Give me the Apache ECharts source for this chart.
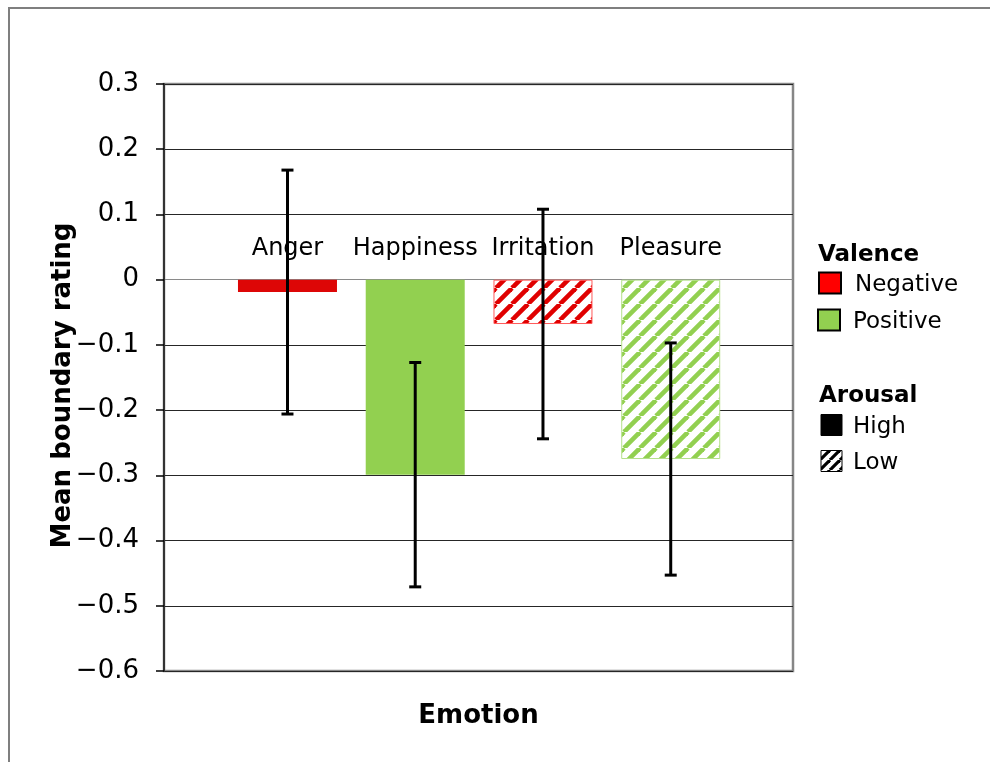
<!DOCTYPE html>
<html>
<head>
<meta charset="utf-8">
<script src="https://cdn.jsdelivr.net/npm/echarts@6/dist/echarts.min.js"></script>
<style>html,body{margin:0;padding:0;background:#fff}#chart{width:990px;height:762px}</style>
</head>
<body>
<div id="chart"></div>
<script>
// ---- data ----
const categories = ['Anger', 'Happiness', 'Irritation', 'Pleasure'];
const meanValues = [-0.019, -0.299, -0.068, -0.275];
const errorValues = [0.187, 0.172, 0.176, 0.178];
const valence = ['Negative', 'Positive', 'Negative', 'Positive'];
const arousal = ['High', 'High', 'Low', 'Low'];
const yMin = -0.6, yMax = 0.3, yStep = 0.1;
const valenceLegend = ['Negative', 'Positive'];
const arousalLegend = ['High', 'Low'];
const yTitle = 'Mean boundary rating';
const xTitle = 'Emotion';

// ---- styling ----
const FONT = 'DejaVu Sans';
const solidColor = { Negative: '#dd0606', Positive: '#92d050' };
const stripeColor = { Negative: '#e00000', Positive: '#92d050' };
const stripeBorder = { Negative: '#ff5a5a', Positive: '#b4e08a' };
const legendColor = { Negative: '#ff0000', Positive: '#92d050' };

function stripes(color, s, w) {
  const c = document.createElement('canvas');
  c.width = s; c.height = s;
  const g = c.getContext('2d');
  g.fillStyle = '#fff'; g.fillRect(0, 0, s, s);
  g.strokeStyle = color; g.lineWidth = w;
  for (const k of [-1, 0, 1]) {
    g.beginPath(); g.moveTo(k * s, s); g.lineTo(k * s + s, 0); g.stroke();
  }
  return c;
}

function itemStyleFor(i) {
  const v = valence[i];
  if (arousal[i] === 'High') return { color: solidColor[v] };
  return {
    color: { image: stripes(stripeColor[v], 16, 4.6), repeat: 'repeat' },
    borderColor: stripeBorder[v], borderWidth: 1
  };
}

const chart = echarts.init(document.getElementById('chart'), null, { renderer: 'canvas' });

const legendX = 819;
const graphics = [
  { type: 'rect', z: -10, shape: { x: 9, y: 8, width: 1200, height: 1000 },
    style: { fill: 'transparent', stroke: '#7f7f7f', lineWidth: 2 } },
  { type: 'text', style: { text: 'Valence', x: legendX - 1, y: 255, font: 'bold 23px "DejaVu Sans"', fill: '#000', verticalAlign: 'middle' } },
  { type: 'text', style: { text: 'Arousal', x: legendX, y: 396, font: 'bold 23px "DejaVu Sans"', fill: '#000', verticalAlign: 'middle' } }
];
const valY = [283, 320];
valenceLegend.forEach((name, k) => {
  graphics.push({ type: 'rect', shape: { x: legendX + (k ? -1 : 0), y: valY[k] - 10.5, width: 22, height: 21 },
    style: { fill: legendColor[name], stroke: '#000', lineWidth: 2 } });
  graphics.push({ type: 'text', style: { text: name, x: legendX + 36 - (k ? 2 : 0), y: valY[k] + 2, font: '23px "DejaVu Sans"', fill: '#000', verticalAlign: 'middle' } });
});
const arY = [425, 461];
arousalLegend.forEach((name, k) => {
  const fill = name === 'High' ? '#000' : { image: stripes('#000', 10, 3.2), repeat: 'repeat' };
  graphics.push({ type: 'rect', shape: { x: legendX + 2, y: arY[k] - 10.5, width: 21, height: 21 },
    style: { fill: fill, stroke: '#000', lineWidth: 1 } });
  graphics.push({ type: 'text', style: { text: name, x: legendX + 34, y: arY[k] + 2, font: '23px "DejaVu Sans"', fill: '#000', verticalAlign: 'middle' } });
});

const splitColors = [];
for (let v = yMin; v <= yMax + 1e-9; v += yStep) {
  splitColors.push(Math.abs(v) < 1e-9 ? '#8a8a8a' : '#262626');
}

const option = {
  animation: false,
  backgroundColor: '#fff',
  grid: [
    { left: 223.6, width: 511, top: 84, height: 587 },
    { left: 164, width: 629, top: 84, height: 587, show: true, borderColor: '#868686', borderWidth: 2.5, backgroundColor: 'transparent' }
  ],
  xAxis: [
    { gridIndex: 0, type: 'category', data: categories, show: false },
    { gridIndex: 1, type: 'value', min: 0, max: 1,
      axisLine: { show: false }, axisTick: { show: false }, axisLabel: { show: false }, splitLine: { show: false },
      name: xTitle, nameLocation: 'middle', nameGap: 32, nameMoveOverlap: false,
      nameTextStyle: { fontFamily: FONT, fontSize: 26, fontWeight: 'bold', color: '#000' } }
  ],
  yAxis: [
    { gridIndex: 0, type: 'value', min: yMin, max: yMax, interval: yStep, show: false },
    { gridIndex: 1, type: 'value', min: yMin, max: yMax, interval: yStep,
      axisLine: { show: true, lineStyle: { color: '#333', width: 2 } },
      axisTick: { show: true, length: 8, lineStyle: { color: '#000', width: 1.5 } },
      axisLabel: { margin: 25, fontFamily: FONT, fontSize: 26, color: '#000',
        formatter: v => (Math.abs(v) < 1e-9 ? '0' : String(+v.toFixed(1)).replace('-', '\u2212')) },
      splitLine: { show: true, lineStyle: { color: splitColors, width: 1.2 } },
      name: yTitle, nameLocation: 'middle', nameGap: 88, nameRotate: 90, nameMoveOverlap: false,
      nameTextStyle: { fontFamily: FONT, fontSize: 26, fontWeight: 'bold', color: '#000', padding: [0, 16, 0, 0] } }
  ],
  series: [
    {
      type: 'bar', xAxisIndex: 0, yAxisIndex: 0, z: 2,
      barWidth: 99,
      data: meanValues.map((v, i) => ({ value: v, itemStyle: itemStyleFor(i) })),
      label: { show: true, position: 'top', distance: 19, formatter: p => p.name,
        fontFamily: FONT, fontSize: 24, color: '#000' }
    },
    {
      type: 'custom', xAxisIndex: 0, yAxisIndex: 0, z: 10,
      data: meanValues.map((v, i) => [i, v - errorValues[i], v + errorValues[i]]),
      encode: { x: 0, y: [1, 2] },
      renderItem: function (params, api) {
        const i = api.value(0);
        const lo = api.coord([i, api.value(1)]);
        const hi = api.coord([i, api.value(2)]);
        const hw = 6;
        const st = { stroke: '#000', lineWidth: 3 };
        return { type: 'group', children: [
          { type: 'line', shape: { x1: lo[0], y1: lo[1], x2: hi[0], y2: hi[1] }, style: st },
          { type: 'line', shape: { x1: lo[0] - hw, y1: lo[1], x2: lo[0] + hw, y2: lo[1] }, style: st },
          { type: 'line', shape: { x1: hi[0] - hw, y1: hi[1], x2: hi[0] + hw, y2: hi[1] }, style: st }
        ] };
      }
    }
  ],
  graphic: graphics
};
chart.setOption(option);
</script>
</body>
</html>
